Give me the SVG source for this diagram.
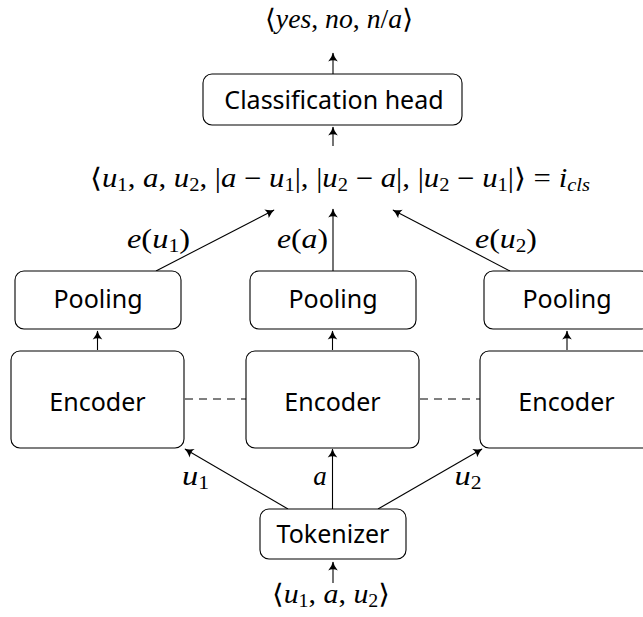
<svg xmlns="http://www.w3.org/2000/svg" width="643" height="617" viewBox="0 0 643 617">
<style>
.box{fill:#fff;stroke:#000;stroke-width:1.1}
.lbl{font-family:"Noto Sans","Open Sans",sans-serif;font-size:25px;fill:#000;text-anchor:middle}
.m{font-family:"Liberation Serif","DejaVu Serif",serif;font-size:27px;fill:#000}
.i{font-style:italic}
.s{font-size:18px}
.c{fill:none;stroke:#000;stroke-width:1.1}
.d{fill:none;stroke:#000;stroke-width:1;stroke-dasharray:8,6}
</style>
<defs>
<marker id="ah" markerUnits="userSpaceOnUse" markerWidth="12" markerHeight="12" viewBox="-8 -5 10 10" refX="0" refY="0" orient="auto">
<path d="M-7,-4 Q-3,-0.8 0.5,0 Q-3,0.8 -7,4 Q-5,0 -7,-4 Z" fill="#000"/>
</marker>
</defs>
<g id="connectors">
<line class="c" x1="333" y1="74" x2="333" y2="53" marker-end="url(#ah)"/>
<line class="c" x1="333" y1="146" x2="333" y2="127" marker-end="url(#ah)"/>
<line class="c" x1="156" y1="271" x2="274" y2="210" marker-end="url(#ah)"/>
<line class="c" x1="333" y1="271" x2="333" y2="209" marker-end="url(#ah)"/>
<line class="c" x1="510" y1="271" x2="393" y2="210" marker-end="url(#ah)"/>
<line class="c" x1="97.5" y1="350" x2="97.5" y2="331" marker-end="url(#ah)"/>
<line class="c" x1="332.5" y1="350" x2="332.5" y2="331" marker-end="url(#ah)"/>
<line class="c" x1="567" y1="350" x2="567" y2="331" marker-end="url(#ah)"/>
<line class="d" x1="185" y1="399" x2="246" y2="399"/>
<line class="d" x1="420" y1="399" x2="480" y2="399"/>
<line class="c" x1="288" y1="509" x2="185" y2="449" marker-end="url(#ah)"/>
<line class="c" x1="332.5" y1="509" x2="332.5" y2="449" marker-end="url(#ah)"/>
<line class="c" x1="378" y1="509" x2="482" y2="449" marker-end="url(#ah)"/>
<line class="c" x1="333" y1="583" x2="333" y2="562" marker-end="url(#ah)"/>
</g>
<g id="output"><text class="m" x="339" y="28" text-anchor="middle" textLength="148" lengthAdjust="spacingAndGlyphs">⟨<tspan class="i">yes</tspan>, <tspan class="i">no</tspan>, <tspan class="i">n</tspan>/<tspan class="i">a</tspan>⟩</text></g>
<g id="classification-head"><rect class="box" x="203" y="74" width="259" height="51" rx="9"/><text class="lbl" x="334" y="109">Classification head</text></g>
<g id="features"><text class="m" x="340" y="187" text-anchor="middle" textLength="500" lengthAdjust="spacingAndGlyphs">⟨<tspan class="i">u</tspan><tspan class="s" dy="4">1</tspan><tspan dy="-4">, </tspan><tspan class="i">a</tspan>, <tspan class="i">u</tspan><tspan class="s" dy="4">2</tspan><tspan dy="-4">, |</tspan><tspan class="i">a</tspan> − <tspan class="i">u</tspan><tspan class="s" dy="4">1</tspan><tspan dy="-4">|, |</tspan><tspan class="i">u</tspan><tspan class="s" dy="4">2</tspan><tspan dy="-4"> − </tspan><tspan class="i">a</tspan>|, |<tspan class="i">u</tspan><tspan class="s" dy="4">2</tspan><tspan dy="-4"> − </tspan><tspan class="i">u</tspan><tspan class="s" dy="4">1</tspan><tspan dy="-4">|⟩ = </tspan><tspan class="i">i</tspan><tspan class="s i" dy="4">cls</tspan></text></g>
<g id="edge-labels">
<text class="m" x="158.5" y="248" text-anchor="middle" textLength="63" lengthAdjust="spacingAndGlyphs"><tspan class="i">e</tspan>(<tspan class="i">u</tspan><tspan class="s" dy="4">1</tspan><tspan dy="-4">)</tspan></text>
<text class="m" x="302.5" y="248" text-anchor="middle" textLength="51" lengthAdjust="spacingAndGlyphs"><tspan class="i">e</tspan>(<tspan class="i">a</tspan>)</text>
<text class="m" x="506" y="248" text-anchor="middle" textLength="62" lengthAdjust="spacingAndGlyphs"><tspan class="i">e</tspan>(<tspan class="i">u</tspan><tspan class="s" dy="4">2</tspan><tspan dy="-4">)</tspan></text>
<text class="m" x="195.5" y="485" text-anchor="middle" textLength="27" lengthAdjust="spacingAndGlyphs"><tspan class="i">u</tspan><tspan class="s" dy="4">1</tspan></text>
<text class="m" x="320" y="485" text-anchor="middle" font-style="italic">a</text>
<text class="m" x="468" y="485" text-anchor="middle" textLength="27" lengthAdjust="spacingAndGlyphs"><tspan class="i">u</tspan><tspan class="s" dy="4">2</tspan></text>
</g>
<g id="pooling-1"><rect class="box" x="15" y="271" width="166" height="58" rx="9"/><text class="lbl" x="98" y="308">Pooling</text></g>
<g id="pooling-2"><rect class="box" x="250" y="271" width="166" height="58" rx="9"/><text class="lbl" x="333" y="308">Pooling</text></g>
<g id="pooling-3"><rect class="box" x="484" y="271" width="166" height="58" rx="9"/><text class="lbl" x="567" y="308">Pooling</text></g>
<g id="encoder-1"><rect class="box" x="11" y="351" width="173" height="97" rx="9"/><text class="lbl" x="97.5" y="411">Encoder</text></g>
<g id="encoder-2"><rect class="box" x="246" y="351" width="173" height="97" rx="9"/><text class="lbl" x="332.5" y="411">Encoder</text></g>
<g id="encoder-3"><rect class="box" x="480" y="351" width="173" height="97" rx="9"/><text class="lbl" x="566.5" y="411">Encoder</text></g>
<g id="tokenizer"><rect class="box" x="260" y="509" width="146" height="50" rx="9"/><text class="lbl" x="333" y="543">Tokenizer</text></g>
<g id="input"><text class="m" x="331" y="603" text-anchor="middle" textLength="118" lengthAdjust="spacingAndGlyphs">⟨<tspan class="i">u</tspan><tspan class="s" dy="4">1</tspan><tspan dy="-4">, </tspan><tspan class="i">a</tspan>, <tspan class="i">u</tspan><tspan class="s" dy="4">2</tspan><tspan dy="-4">⟩</tspan></text></g>
</svg>
